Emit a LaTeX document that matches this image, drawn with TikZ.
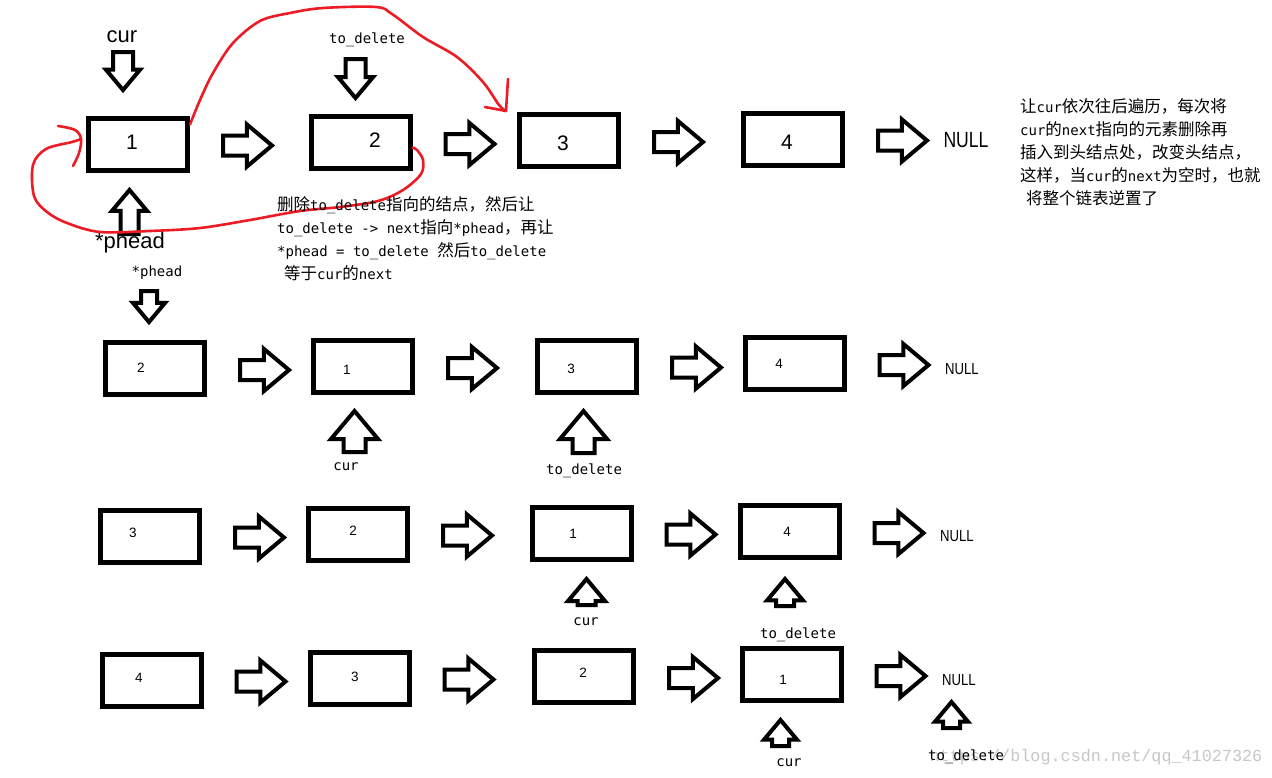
\documentclass[tikz,border=0pt]{standalone}
\usepackage{fontspec}
\setmainfont{Liberation Sans}
\newfontfamily\cjkfont{Noto Sans CJK SC}
\newfontfamily\codefont{DejaVu Sans Mono}
\newfontfamily\markfont{Liberation Mono}
\usetikzlibrary{shapes.arrows,calc,positioning}
\definecolor{pen}{RGB}{237,28,36}
\newcommand{\zhtext}[1]{{\cjkfont\fontsize{16.5}{23}\selectfont #1}}

\begin{document}
\begin{tikzpicture}[x=1pt, y=-1pt,
  cell/.style={draw, line width=5pt, minimum width=99pt, minimum height=52pt, inner sep=0pt},
  bignum/.style={font=\fontsize{21}{21}\selectfont, inner sep=0pt},
  smallnum/.style={font=\fontsize{13.5}{14}\selectfont, inner sep=0pt},
  blk/.style n args={3}{single arrow, draw, line width=4pt, inner xsep=0pt,
      inner ysep={(#3-4)/2}, minimum width=1pt, minimum height={#1-4},
      single arrow head extend={(#2-#3)/2}, single arrow tip angle=80, anchor=tail},
  harr/.style={blk={53}{42}{20}},
  biglbl/.style={font=\fontsize{22}{22}\selectfont, inner sep=0pt},
  lbl/.style={font=\codefont\fontsize{14}{14}\selectfont, inner sep=0pt},
  nulllbl/.style={inner sep=0pt},
  note/.style={align=left, inner sep=0pt, font=\codefont\fontsize{14}{23}\selectfont},
  redpen/.style={draw=pen, line width=2.6pt, line cap=round, line join=round},
]
\useasboundingbox[fill=white] (0,0) rectangle (1272,777);

% watermark
\node[font=\markfont\fontsize{16.8}{17}\selectfont, text=black!22, inner sep=0pt] (mark) at (1096,757) {https://blog.csdn.net/qq\_41027326};

% row 1
\node[cell] (b11) at (138,144) {};
\node[cell] (b12) at (360.5,142.5) {};
\node[cell] (b13) at (569,140.5) {};
\node[cell] (b14) at (793,139) {};
\node[bignum] (n11) at (132,142) {1};
\node[bignum] (n12) at (375,140) {2};
\node[bignum] (n13) at (563,143) {3};
\node[bignum] (n14) at (787,142) {4};
\foreach \a/\b in {b11/a11, b12/a12, b13/a13, b14/a14}
  \node[harr] (\b) at ([xshift=31pt, yshift=-1.5pt]\a.east) {};
\node[nulllbl] (null1) at (966,140) {\scalebox{0.8}[1]{\fontsize{22}{22}\selectfont NULL}};

\node[biglbl] (cur1) at (122,37) {cur};
\node[blk={42}{34}{20}, rotate=-90] (dcur1) at (123,50) {};
\node[lbl] (del1) at (367,40) {to\_delete};
\node[blk={43}{35}{20}, rotate=-90] (ddel1) at (355.5,57) {};
\node[blk={48}{35}{18}, rotate=90] (uhead1) at (129.5,236) {};
\node[biglbl] (head1) at (130,243) {*phead};

% red strokes
\coordinate (tip1) at (506,111);
\coordinate (tip2) at (81,139);
\draw[redpen] plot[smooth, tension=0.55] coordinates {([yshift=-9pt]b11.north east) (200,100) (213,73) (233,43) (260,21) (290,13) (323,8) (376,7) (392,14) (423,37) (457,57) (483,82) (499,105) (tip1)};
\draw[redpen] (tip1) -- (508,79);
\draw[redpen] (tip1) -- (485,107);
\draw[redpen] plot[smooth, tension=0.55] coordinates {([yshift=-5pt]b12.east) (417,150) (423,160) (421,174) (403,190) (378,201) (340,207) (300,211) (250,220) (200,228) (150,231) (100,232) (67,223) (47,212) (34,196) (33,165) (46,149) (72,142) (tip2)};
\draw[redpen] plot[smooth, tension=0.6] coordinates {(58,126) (75,130) (tip2) (79,153) (73,166)};

\node[note, anchor=north west] (memo) at (277,196.5) {%
\zhtext{删除}to\_delete\zhtext{指向的结点，然后让}\\
to\_delete -> next\zhtext{指向}*phead\zhtext{，再让}\\
*phead = to\_delete \zhtext{然后}to\_delete\\
\hspace{7pt}\zhtext{等于}cur\zhtext{的}next};

\node[note, anchor=north west] (idea) at (1020,98.5) {%
\zhtext{让}cur\zhtext{依次往后遍历，每次将}\\
cur\zhtext{的}next\zhtext{指向的元素删除再}\\
\zhtext{插入到头结点处，改变头结点，}\\
\zhtext{这样，当}cur\zhtext{的}next\zhtext{为空时，也就}\\
\hspace{6pt}\zhtext{将整个链表逆置了}};

% row 2
\node[lbl] (head2) at (157,273) {*phead};
\node[blk={35}{32}{16}, rotate=-90] (dhead2) at (149,289) {};
\node[cell] (b21) at (155,368.5) {};
\node[cell] (b22) at (363,366.5) {};
\node[cell] (b23) at (587,366) {};
\node[cell] (b24) at (794.5,363.5) {};
\node[smallnum] (n21) at (141,368) {2};
\node[smallnum] (n22) at (347,370) {1};
\node[smallnum] (n23) at (571,369) {3};
\node[smallnum] (n24) at (779,364) {4};
\foreach \a/\b in {b21/a21, b22/a22, b23/a23, b24/a24}
  \node[harr] (\b) at ([xshift=31pt, yshift=-1.5pt]\a.east) {};
\node[nulllbl] (null2) at (962,369) {\scalebox{0.82}[1]{\fontsize{16}{16}\selectfont NULL}};
\node[blk={45}{47}{22}, rotate=90] (ucur2) at (354.5,454) {};
\node[lbl] (cur2) at (346,467) {cur};
\node[blk={46}{47}{22}, rotate=90] (udel2) at (583.5,455) {};
\node[lbl] (del2) at (584,471) {to\_delete};

% row 3
\node[cell] (b31) at (150,536) {};
\node[cell] (b32) at (358,534) {};
\node[cell] (b33) at (581.5,533) {};
\node[cell] (b34) at (789.5,531.5) {};
\node[smallnum] (n31) at (133,533) {3};
\node[smallnum] (n32) at (353,531) {2};
\node[smallnum] (n33) at (573,534) {1};
\node[smallnum] (n34) at (787,532) {4};
\foreach \a/\b in {b31/a31, b32/a32, b33/a33, b34/a34}
  \node[harr] (\b) at ([xshift=31pt, yshift=-1.5pt]\a.east) {};
\node[nulllbl] (null3) at (957,536) {\scalebox{0.82}[1]{\fontsize{16}{16}\selectfont NULL}};
\node[blk={30}{37}{18}, rotate=90] (ucur3) at (586.5,607) {};
\node[lbl] (cur3) at (586,622) {cur};
\node[blk={31}{36}{18}, rotate=90] (udel3) at (785,608) {};
\node[lbl] (del3) at (798,635) {to\_delete};

% row 4
\node[cell] (b41) at (151.5,680) {};
\node[cell] (b42) at (359.5,678) {};
\node[cell] (b43) at (584,676.5) {};
\node[cell] (b44) at (791.5,674.5) {};
\node[smallnum] (n41) at (139,678) {4};
\node[smallnum] (n42) at (355,677) {3};
\node[smallnum] (n43) at (583,673) {2};
\node[smallnum] (n44) at (783,680) {1};
\foreach \a/\b in {b41/a41, b42/a42, b43/a43, b44/a44}
  \node[harr] (\b) at ([xshift=31pt, yshift=-1.5pt]\a.east) {};
\node[nulllbl] (null4) at (959,680) {\scalebox{0.82}[1]{\fontsize{16}{16}\selectfont NULL}};
\node[blk={30}{33}{17}, rotate=90] (udel4) at (951.5,730) {};
\node[lbl] (del4) at (966,757) {to\_delete};
\node[blk={30}{33}{17}, rotate=90] (ucur4) at (780.5,748) {};
\node[lbl] (cur4) at (789,763) {cur};
\end{tikzpicture}
\end{document}
